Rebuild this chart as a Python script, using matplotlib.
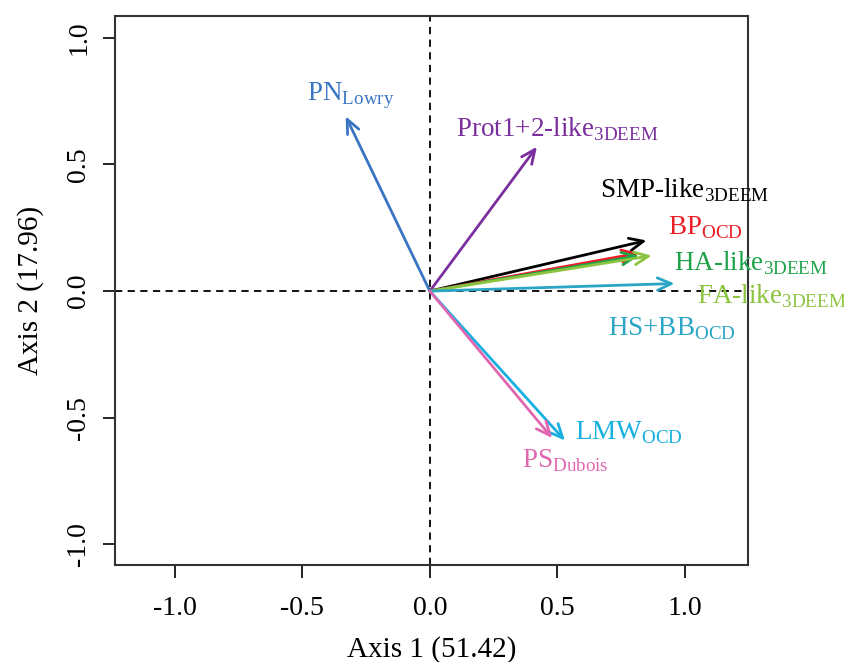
import matplotlib

matplotlib.use("Agg")
import matplotlib.pyplot as plt

# Biplot loadings (axis 1, axis 2)
names = ["PN", "Prot1+2-like", "SMP-like", "BP", "HA-like", "FA-like", "HS+BB", "LMW", "PS"]
subs = ["Lowry", "3DEEM", "3DEEM", "OCD", "3DEEM", "3DEEM", "OCD", "OCD", "Dubois"]
ax1 = [-0.33, 0.42, 0.85, 0.82, 0.82, 0.87, 0.96, 0.53, 0.48]
ax2 = [0.69, 0.57, 0.20, 0.15, 0.14, 0.14, 0.03, -0.59, -0.58]
label_x = [-0.31, 0.50, 1.00, 1.08, 1.26, 1.34, 0.95, 0.78, 0.53]
label_y = [0.77, 0.64, 0.40, 0.25, 0.11, -0.02, -0.15, -0.56, -0.67]
colors = ["#3a75c4", "#7b2f9e", "#000000", "#ee1c25", "#1fa34a", "#8cc43f",
          "#2aa5c6", "#17b0e0", "#e066b0"]
ticks = [-1.0, -0.5, 0.0, 0.5, 1.0]

plt.rcParams["font.family"] = ["Liberation Serif", "DejaVu Serif"]
plt.rcParams["mathtext.fontset"] = "custom"
plt.rcParams["mathtext.rm"] = "Liberation Serif"

fig = plt.figure(figsize=(8.45, 6.62), dpi=100)
ax = fig.add_axes([0.136, 0.1465, 0.749, 0.829])
ax.set_xlim(-1.235, 1.247)
ax.set_ylim(-1.081, 1.085)

ax.axhline(0, color="black", ls="--", lw=1.3, dashes=(4, 3))
ax.axvline(0, color="black", ls="--", lw=1.3, dashes=(4, 3))

for x, y, c in zip(ax1, ax2, colors):
    ax.annotate("", xy=(x, y), xytext=(0, 0),
                arrowprops=dict(arrowstyle="->,head_length=1.0,head_width=0.45",
                                color=c, lw=2.0, shrinkA=0, shrinkB=0))

for n, s, x, y, c in zip(names, subs, label_x, label_y, colors):
    ax.text(x, y, n + r"$_{\mathrm{" + s + "}}$", color=c, fontsize=19.5,
            ha="center", va="center", clip_on=False)

ax.set_xticks(ticks)
ax.set_yticks(ticks)
ax.set_xticklabels([f"{t:.1f}" for t in ticks])
ax.set_yticklabels([f"{t:.1f}" for t in ticks], rotation=90, va="center")
ax.tick_params(direction="out", length=9, width=1.2, labelsize=20, pad=8)
ax.tick_params(axis="x", pad=13)
for sp in ax.spines.values():
    sp.set_linewidth(1.5)
    sp.set_color("#333333")

ax.set_xlabel("Axis 1 (51.42)", fontsize=21, labelpad=11)
ax.set_ylabel("Axis 2 (17.96)", fontsize=21, labelpad=16)

fig.savefig("out.png", dpi=100)
